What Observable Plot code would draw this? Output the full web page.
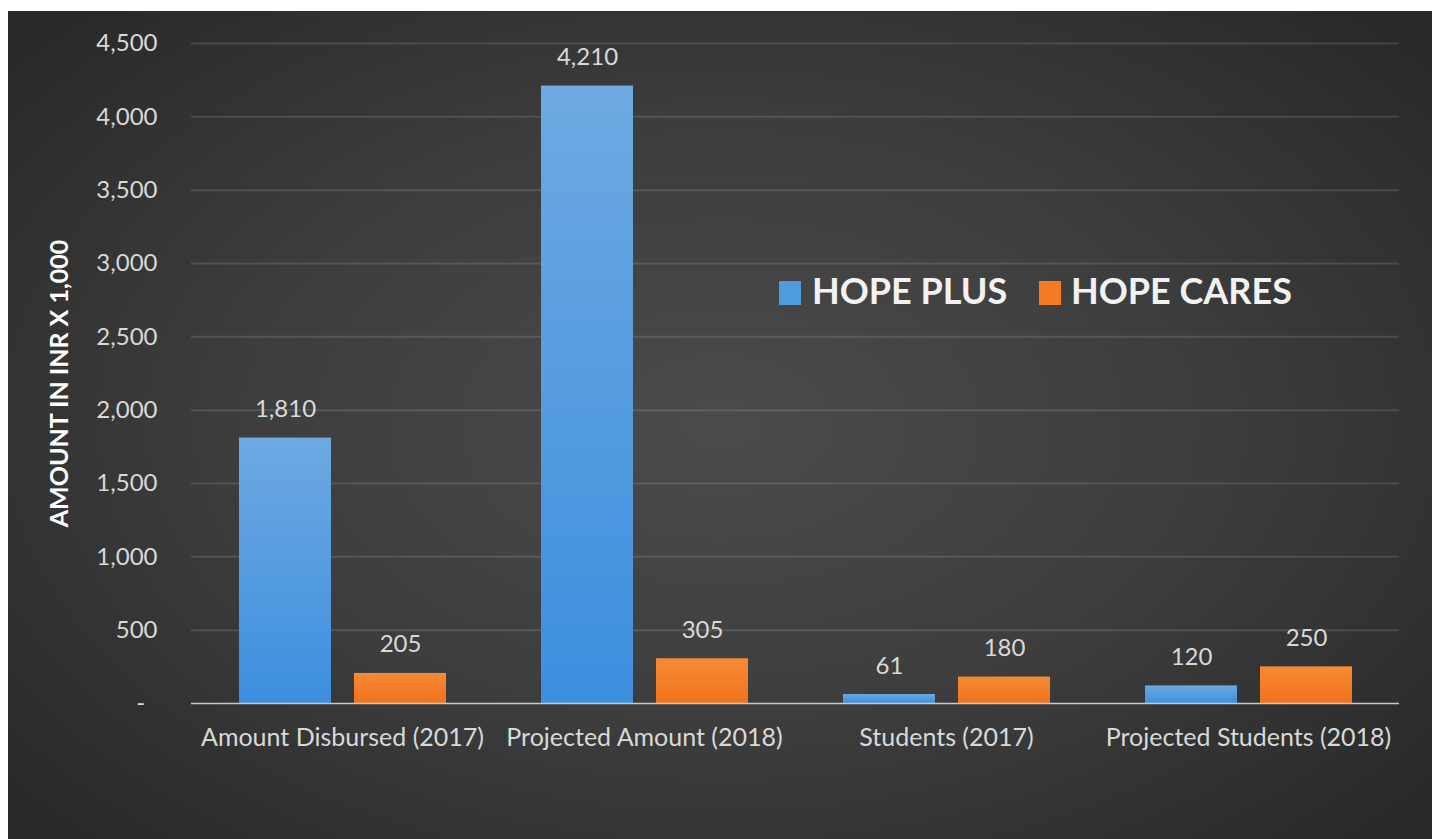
<!DOCTYPE html>
<html>
<head>
<meta charset="utf-8">
<script src="https://cdn.jsdelivr.net/npm/d3@7"></script>
<script src="https://cdn.jsdelivr.net/npm/@observablehq/plot@0.6"></script>
<style>
  html, body { margin: 0; padding: 0; background: #ffffff; }
  #frame {
    position: absolute; left: 8px; top: 11px; width: 1424px; height: 828px;
    background: radial-gradient(ellipse 75% 80% at 50% 50%, #4b4b4b 0%, #3d3d3d 45%, #2a2a2a 85%, #262626 100%);
    overflow: hidden;
  }
  .lg-sq { position: absolute; width: 22px; height: 24px; }
  .lg-tx { position: absolute; font-family: Lato, "Open Sans", sans-serif; font-weight: 700;
           font-size: 36px; line-height: 1; color: #f2f2f2; white-space: nowrap; }
</style>
</head>
<body>
<div id="frame"></div>
<script>
const categories = ["Amount Disbursed (2017)", "Projected Amount (2018)", "Students (2017)", "Projected Students (2018)"];
const series = ["HOPE PLUS", "HOPE CARES"];
const hopePlus = [1810, 4210, 61, 120];
const hopeCares = [205, 305, 180, 250];
const yTicks = [0, 500, 1000, 1500, 2000, 2500, 3000, 3500, 4000, 4500];
const yLabel = "AMOUNT IN INR X 1,000";
const seriesFills = ["url(#gradBlue)", "url(#gradOrange)"];
const seriesSwatch = ["#4f9be0", "#f47a24"];

const data = [];
categories.forEach((c, i) => {
  data.push({category: c, series: series[0], value: hopePlus[i]});
  data.push({category: c, series: series[1], value: hopeCares[i]});
});

const fmt = d3.format(",");
const font = "Lato, 'Open Sans', sans-serif";

const chart = Plot.plot({
  width: 1424,
  height: 828,
  marginLeft: 182,
  marginRight: 32,
  marginTop: 32,
  marginBottom: 136,
  style: {background: "transparent", fontFamily: font, fontSize: "24px", color: "#d9d9d9", overflow: "visible"},
  fx: {domain: categories, padding: 0, label: null},
  x: {domain: series, paddingInner: 0.2, paddingOuter: 0.404, axis: null},
  y: {domain: [0, 4500], label: null},
  color: {domain: series, range: seriesFills},
  marks: [
    Plot.ruleY(yTicks.filter(d => d > 0), {stroke: "#ffffff", strokeOpacity: 0.12, strokeWidth: 2}),
    Plot.barY(data, {fx: "category", x: "series", y: "value", fill: "series"}),
    Plot.ruleY([0], {stroke: "#c9c9c9", strokeWidth: 1.5}),
    Plot.text(data, {fx: "category", x: "series", y: "value", text: d => fmt(d.value),
      dy: -21, lineAnchor: "bottom", fill: "#d9d9d9", fontSize: 24}),
    Plot.axisY({ticks: yTicks, tickSize: 0, tickPadding: 34, label: null,
      tickFormat: d => d === 0 ? "-\u00A0\u00A0" : fmt(d), fill: "#d9d9d9", fontSize: 24}),
    Plot.axisFx({anchor: "bottom", tickSize: 0, tickPadding: 25, label: null, fill: "#d9d9d9", fontSize: 25}),
    Plot.text([yLabel], {fx: () => categories[0], frameAnchor: "left", textAnchor: "middle", rotate: -90,
      dx: -132, dy: 10, fill: "#ffffff", fontWeight: "bold", fontSize: 25})
  ]
});

d3.select(chart).insert("defs", ":first-child").html(`
  <linearGradient id="gradBlue" x1="0" y1="0" x2="0" y2="1">
    <stop offset="0%" stop-color="#6ea9e2"/>
    <stop offset="100%" stop-color="#3c8fde"/>
  </linearGradient>
  <linearGradient id="gradOrange" x1="0" y1="0" x2="0" y2="1">
    <stop offset="0%" stop-color="#f78b35"/>
    <stop offset="100%" stop-color="#f2721c"/>
  </linearGradient>`);

const frame = document.getElementById("frame");
frame.appendChild(chart);

// Legend (inside the chart area)
const legendItems = [
  {sq: 771, tx: 804},
  {sq: 1031, tx: 1063}
];
series.forEach((s, i) => {
  const sq = document.createElement("div");
  sq.className = "lg-sq";
  sq.style.left = legendItems[i].sq + "px";
  sq.style.top = "270px";
  sq.style.background = seriesSwatch[i];
  frame.appendChild(sq);
  const tx = document.createElement("div");
  tx.className = "lg-tx";
  tx.style.left = legendItems[i].tx + "px";
  tx.style.top = "261px";
  tx.textContent = s;
  frame.appendChild(tx);
});
</script>
</body>
</html>
